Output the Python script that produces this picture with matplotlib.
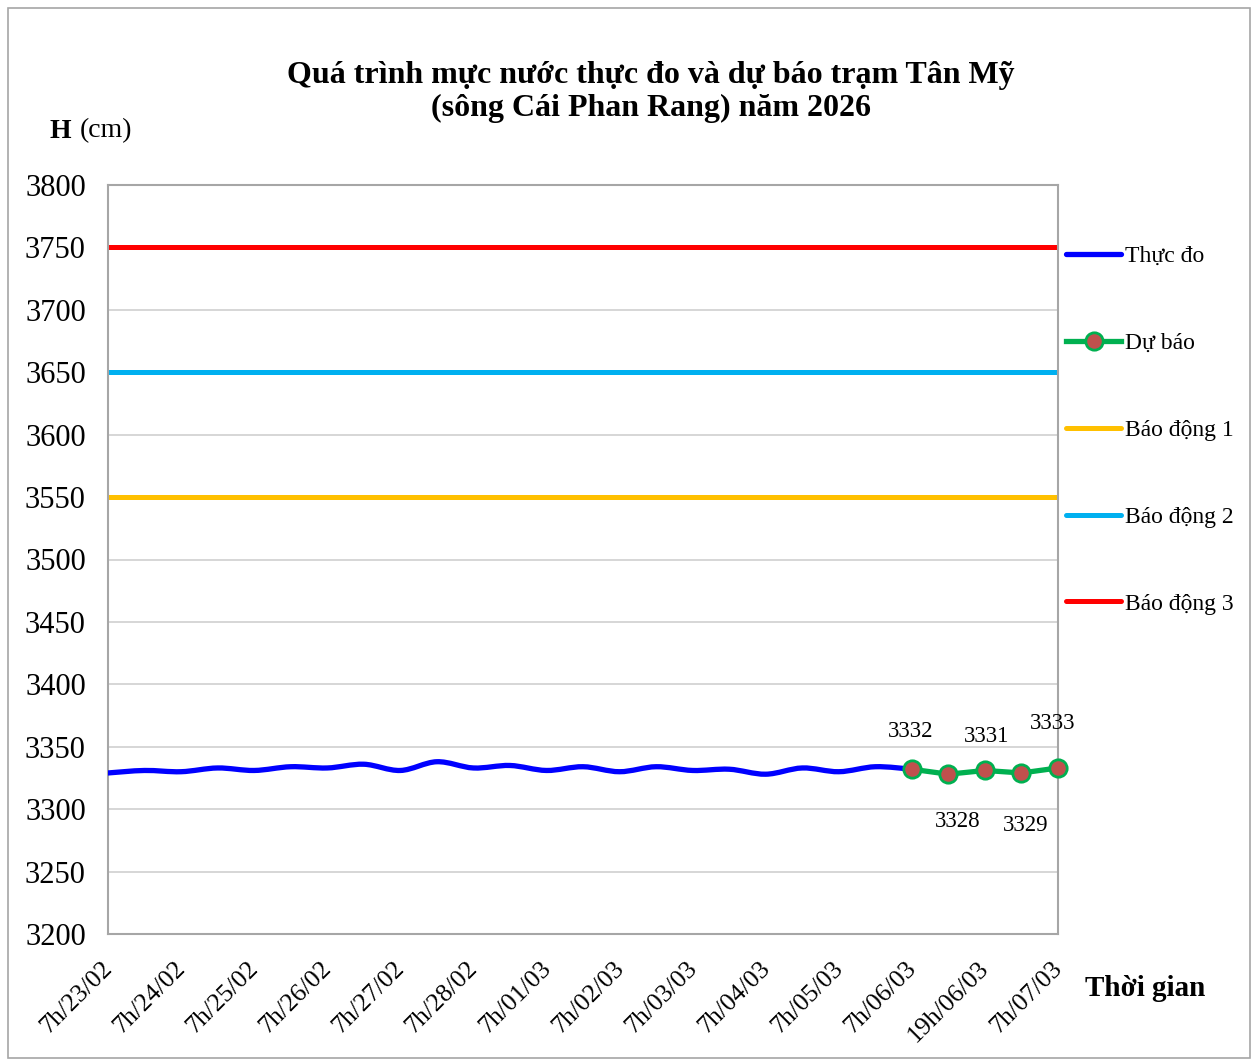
import matplotlib
matplotlib.use("Agg")
import matplotlib.pyplot as plt
import matplotlib.transforms as mtrans
from matplotlib.patches import Rectangle, PathPatch
from matplotlib.path import Path
from matplotlib.lines import Line2D

plt.rcParams['font.family'] = ['Liberation Serif', 'DejaVu Serif']

# ---------------- data ----------------
tick_labels = ["7h/23/02", "7h/24/02", "7h/25/02", "7h/26/02", "7h/27/02",
               "7h/28/02", "7h/01/03", "7h/02/03", "7h/03/03", "7h/04/03",
               "7h/05/03", "7h/06/03", "19h/06/03", "7h/07/03"]
observed = [3329, 3331, 3330, 3333, 3331, 3334, 3333, 3336, 3331, 3338,
            3333, 3335, 3331, 3334, 3330, 3334, 3331, 3332, 3328, 3333,
            3330, 3334, 3332]
forecast = [3332, 3328, 3331, 3329, 3333]
alarm_names = ["Báo động 1", "Báo động 2", "Báo động 3"]
alarm_levels = [3550, 3650, 3750]
alarm_colors = ["#FFC000", "#00B0F0", "#FF0000"]

# label offsets (points) for forecast data labels
label_offsets = [(-0.7, 27), (7, -34), (1.4, 24.5), (3, -37.5), (-3.6, 32)]

n_obs = len(observed)
x_obs = list(range(n_obs))
x_fc = list(range(n_obs - 1, n_obs - 1 + len(forecast)))
n_total = x_fc[-1]


def smooth_path(xs, ys):
    """Bezier path through the data points (spreadsheet-style smoothed line)."""
    pts = list(zip(xs, ys))
    n = len(pts)
    verts = [pts[0]]
    codes = [Path.MOVETO]
    for i in range(n - 1):
        p0 = pts[i - 1] if i > 0 else pts[i]
        p1 = pts[i]
        p2 = pts[i + 1]
        p3 = pts[i + 2] if i + 2 < n else pts[i + 1]
        c1 = (p1[0] + (p2[0] - p0[0]) / 6, p1[1] + (p2[1] - p0[1]) / 6)
        c2 = (p2[0] - (p3[0] - p1[0]) / 6, p2[1] - (p3[1] - p1[1]) / 6)
        verts += [c1, c2, p2]
        codes += [Path.CURVE4] * 3
    return Path(verts, codes)


fig = plt.figure(figsize=(12.55, 10.63), dpi=100)
ax = fig.add_axes([108/1255, 1-934/1063, (1058-108)/1255, (934-185)/1063])

# outer border
fig.patches.append(Rectangle((8/1255, 1-1058/1063), (1250-8)/1255, (1058-8)/1063,
                             transform=fig.transFigure, fill=False,
                             edgecolor="#A6A6A6", linewidth=1.2))

ax.set_ylim(3200, 3800)
ax.set_xlim(0, n_total)
ax.set_yticks(range(3200, 3801, 50))
ax.yaxis.grid(True, color="#D0D0D0", linewidth=1.2)
ax.set_axisbelow(True)
for s in ax.spines.values():
    s.set_color("#A6A6A6")
    s.set_linewidth(1.5)
ax.tick_params(axis='both', length=0)
ax.tick_params(axis='y', labelsize=22, pad=16)
ax.set_xticks(range(0, n_total + 1, 2))
ax.set_xticklabels(tick_labels, rotation=45, ha='right', va='top',
                   rotation_mode='anchor', fontsize=18.5)
ax.tick_params(axis='x', pad=17)
shift = mtrans.ScaledTranslation(-7/100, 0, fig.dpi_scale_trans)
for lab in ax.get_xticklabels():
    lab.set_transform(lab.get_transform() + shift)

handles = {}
for name, lvl, col in zip(alarm_names, alarm_levels, alarm_colors):
    handles[name] = ax.axhline(lvl, color=col, linewidth=3.6, solid_capstyle='round')

obs_style = dict(color="#0000FF", linewidth=3.8)
ax.add_patch(PathPatch(smooth_path(x_obs, observed), fill=False,
                       edgecolor=obs_style["color"], linewidth=obs_style["linewidth"],
                       capstyle='round', joinstyle='round', zorder=3))
l_obs = Line2D([], [], solid_capstyle='round', **obs_style)

l_fc, = ax.plot(x_fc, forecast, color="#00B050", linewidth=3.8, marker='o',
                markersize=12.5, markerfacecolor="#C0504D", markeredgecolor="#00B050",
                markeredgewidth=2, zorder=4, clip_on=False)

for xv, yv, off in zip(x_fc, forecast, label_offsets):
    ax.annotate(str(yv), (xv, yv), xytext=off, textcoords='offset points',
                ha='center', va='center', fontsize=16.5)

title_x = 651/1255
fig.text(title_x, 1-75/1063,
         "Quá trình mực nước thực đo và dự báo trạm Tân Mỹ",
         ha='center', va='center', fontsize=23, fontweight='bold')
fig.text(title_x, 1-108/1063, "(sông Cái Phan Rang) năm 2026",
         ha='center', va='center', fontsize=23, fontweight='bold')

fig.text(50/1255, 1-131/1063, "H", ha='left', va='center', fontsize=20, fontweight='bold')
fig.text(80/1255, 1-131/1063, "(cm)", ha='left', va='center', fontsize=20)
fig.text(1085/1255, 1-988/1063, "Thời gian", ha='left', va='center',
         fontsize=21, fontweight='bold')

leg_handles = [l_obs, l_fc] + [handles[n] for n in alarm_names]
leg_labels = ["Thực đo", "Dự báo"] + alarm_names
leg = fig.legend(leg_handles, leg_labels, loc='upper left',
                 bbox_to_anchor=(1057/1255, 1-236/1063), frameon=False,
                 fontsize=17, handlelength=2.33, labelspacing=2.77,
                 handletextpad=0.17, borderaxespad=0)

fig.savefig("out.png", dpi=100)
